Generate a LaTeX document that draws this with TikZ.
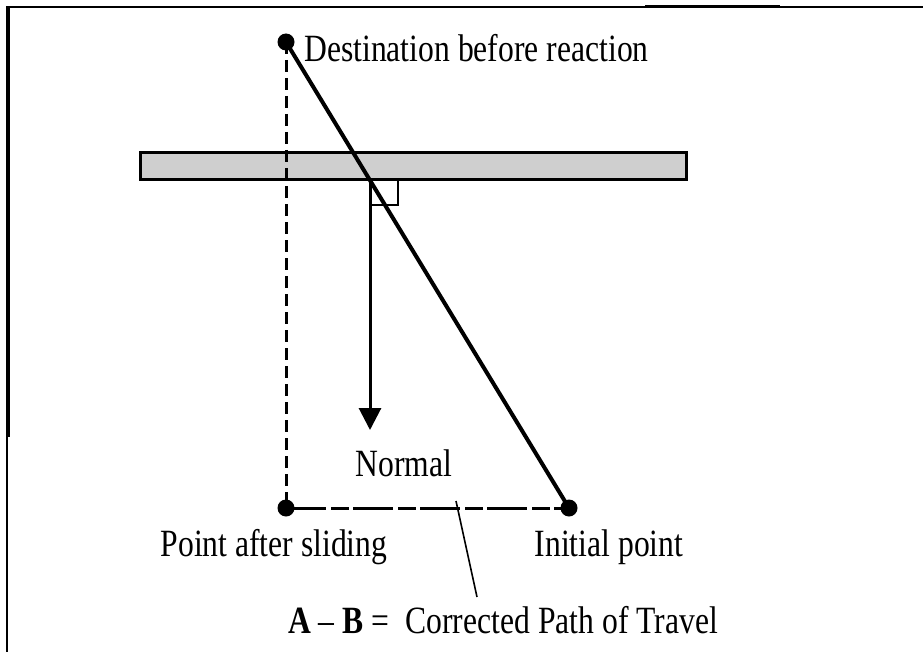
\documentclass[tikz,border=0pt]{standalone}
\usepackage{fontspec}
\setmainfont{Liberation Serif}
\usetikzlibrary{arrows.meta}
\newcommand{\tallt}[1]{\scalebox{1.0}[1.22]{#1}}
\begin{document}
\begin{tikzpicture}[x=0.02cm,y=-0.02cm,
  dot/.style={circle,fill=black,inner sep=0pt,minimum size=17*0.02cm},
  lbl/.style={font=\fontsize{18}{20}\selectfont,inner sep=0pt},
  frameline/.style={line width=2*0.02cm},
  wallbox/.style={draw=black,fill=black!19,line width=3*0.02cm},
  dashv/.style={line width=3*0.02cm,dash pattern=on 12*0.02cm off 6*0.02cm},
  dashh/.style={line width=3*0.02cm,dash pattern=on 40*0.02cm off 5*0.02cm on 18*0.02cm off 4*0.02cm},
  pathline/.style={line width=4*0.02cm},
  normalarrow/.style={line width=3*0.02cm,-{Triangle[length=22*0.02cm,width=22*0.02cm]}},
  leader/.style={line width=1.6*0.02cm},
  rightangle/.style={line width=2*0.02cm}]
\useasboundingbox (0,0) rectangle (923,652);
% frame
\draw[frameline] (7,652) -- (7,7) -- (923,7);
\draw[line width=3*0.02cm] (645,6.5) -- (780,6.5);
\draw[line width=3*0.02cm] (8,8) -- (8,437);
% wall
\node[wallbox,minimum width=546*0.02cm,minimum height=27*0.02cm,inner sep=0pt] (wall) at (413,165.5) {};
% points
\node[dot] (dest) at (286,42) {};
\node[dot] (after) at (286,508) {};
\node[dot] (init) at (569,508) {};
\coordinate (foot) at (370,179);
\coordinate (ntip) at (370,430);
\coordinate (tick) at (456,501);
\coordinate (lend) at (477,597);
% labels
\node[lbl,anchor=west] (tdest) at (304,48) {\tallt{Destination before reaction}};
\node[lbl] (tafter) at (274,547) {\tallt{Point after sliding}};
\node[lbl] (tinit) at (609,547) {\tallt{Initial point}};
\node[lbl] (tnormal) at (404,463) {\tallt{Normal}};
\node[lbl] (tab) at (503,620) {\tallt{\textbf{A} -- \textbf{B} =\ \ Corrected Path of Travel}};
% lines
\draw[dashv] (dest.center) -- (after.center);
\draw[dashh] (after.center) -- (init.center);
\draw[pathline] (dest.center) -- (init.center);
\draw[normalarrow] (foot) -- (ntip);
\draw[rightangle] (foot) -- ++(0,26) -- ++(28,0) -- ++(0,-26);
\draw[leader] (tick) -- (lend);
\end{tikzpicture}
\end{document}
